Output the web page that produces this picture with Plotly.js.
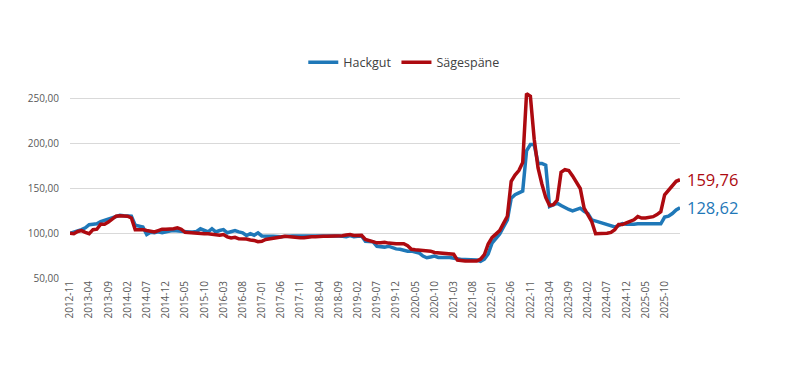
<!DOCTYPE html>
<html>
<head>
<meta charset="utf-8">
<script src="https://cdn.plot.ly/plotly-3.0.1.min.js"></script>
<style>
  html, body { margin: 0; padding: 0; background: #ffffff; }
  #chart { width: 805px; height: 386px; }
</style>
</head>
<body>
<div id="chart"></div>
<script>
// Monthly categories 2012-11 .. 2026-02
const startYear = 2012, startMonth = 11, monthCount = 160;
const months = [];
for (let k = 0; k < monthCount; k++) {
  const m0 = (startMonth - 1) + k;
  const y = startYear + Math.floor(m0 / 12);
  const m = (m0 % 12) + 1;
  months.push(y + '-' + (m < 10 ? '0' + m : '' + m));
}

const tickLabels = ['2012-11','2013-04','2013-09','2014-02','2014-07','2014-12','2015-05','2015-10',
  '2016-03','2016-08','2017-01','2017-06','2017-11','2018-04','2018-09','2019-02','2019-07','2019-12',
  '2020-05','2020-10','2021-03','2021-08','2022-01','2022-06','2022-11','2023-04','2023-09','2024-02',
  '2024-07','2024-12','2025-05','2025-10'];

const hackgut = [
  100, 101, 102.5, 104, 106, 109.5, 110, 110.5, 113, 114.5,
  115, 117, 119, 120, 119.5, 119.5, 119, 109, 108, 107,
  98.5, 101, 100.5, 101.5, 100.5, 102, 102.5, 103, 102.5, 102,
  102, 101.5, 101.5, 102, 105, 103, 101.5, 105, 101.5, 103,
  104, 100.5, 102, 103, 101.5, 100.5, 97.5, 99.5, 97.8, 100.5,
  97, 96.5, 96.5, 96.5, 96, 96, 96.5, 97, 97, 97,
  97, 97, 97, 97.5, 97.5, 97.5, 97.5, 97.5, 97, 97,
  97, 96.5, 96, 97.5, 96, 96.5, 97, 91, 91, 90.5,
  85.5, 85, 84.5, 85.5, 83.5, 82.5, 82, 81, 80, 80,
  79, 78, 74.5, 72.6, 73.5, 74.4, 73, 72.6, 73, 73,
  72, 71.5, 70.6, 70.6, 70.5, 70, 70, 68.5, 71, 77,
  89, 94, 99, 107, 115, 139, 143, 145, 147, 192,
  199, 199, 178, 178, 176, 130, 132, 133.5, 131, 128.5,
  126.5, 125, 127, 128, 124.5, 122, 115, 113.5, 112.5, 111,
  110, 107.5, 107, 108.5, 110.8, 110, 109.7, 110, 110.5, 110.5,
  110.5, 110.8, 110.8, 110.5, 110.5, 118, 119, 122, 126, 128.62
];

const saegespaene = [
  100, 99.5, 102, 103, 101, 99.5, 104, 104.5, 110, 110,
  112.5, 116, 119, 119.5, 119.5, 119, 117, 104, 104, 104,
  103, 102.5, 101.5, 103, 104.5, 104.5, 104.5, 105, 106, 104.5,
  101, 100.5, 100, 99.5, 99.5, 99.3, 99.3, 99, 98.5, 97.8,
  98.5, 96, 94.8, 95.5, 93.7, 93.7, 93.5, 92.5, 92, 90.5,
  91, 93, 93.5, 94, 95, 95.7, 96.5, 96, 95.5, 95,
  95, 95, 95.7, 96, 96, 96.5, 96.5, 96.5, 96.5, 97,
  97, 97.3, 98, 98.5, 97.5, 97.3, 97.7, 93, 92, 91,
  89.3, 89.5, 90, 89, 88.2, 88.2, 88.2, 88.2, 86, 82,
  81.5, 81, 81, 80.5, 80, 78.5, 78, 77.3, 77, 76.8,
  76.6, 70, 69, 69, 69, 69, 69, 71, 76, 88,
  95, 99, 103, 111, 119, 158, 165, 170, 179, 256,
  253, 205, 173, 155, 140, 131, 132, 137, 168, 171,
  170, 164, 156, 150, 128, 121, 113, 99.5, 99.5, 99.7,
  100, 101, 104, 109.7, 109.7, 111.5, 113, 115, 118.6, 117,
  117, 117.5, 118.5, 120.8, 124, 143, 148, 152, 158, 159.76
];

const yTicks = [50, 100, 150, 200, 250];
const seriesNames = ['Hackgut', 'Sägespäne'];
const blue = '#1f78b8';
const red = '#ad0a10';
const fontFam = '"Open Sans", "DejaVu Sans", sans-serif';

function fmt(v) { return v.toFixed(2).replace('.', ','); }

const traces = [
  { x: months, y: hackgut, name: seriesNames[0], type: 'scatter', mode: 'lines',
    line: { color: blue, width: 3.5 } },
  { x: months, y: saegespaene, name: seriesNames[1], type: 'scatter', mode: 'lines',
    line: { color: red, width: 3.5 } }
];

const layout = {
  width: 805, height: 386,
  paper_bgcolor: '#ffffff', plot_bgcolor: '#ffffff',
  font: { family: fontFam, color: '#595959', size: 10 },
  separators: ',.',
  margin: { l: 70, r: 125, t: 90, b: 108 },
  showlegend: true,
  legend: {
    orientation: 'h', x: 0.548, xanchor: 'center', y: 1.145, yanchor: 'middle',
    font: { family: fontFam, size: 12.5, color: '#404040' },
    itemwidth: 30, tracegroupgap: 0
  },
  xaxis: {
    type: 'category', range: [0, months.length - 1],
    tickmode: 'array', tickvals: tickLabels, ticktext: tickLabels,
    tickangle: -90, showgrid: false, zeroline: false, showline: false, ticks: '',
    tickfont: { family: fontFam, size: 10, color: '#595959' },
    fixedrange: true
  },
  yaxis: {
    range: [50, 260], tickmode: 'array', tickvals: yTicks,
    ticktext: yTicks.map(fmt), showgrid: true, gridcolor: '#d9d9d9', gridwidth: 1,
    zeroline: false, showline: false, ticks: '', ticklabelstandoff: 10,
    tickfont: { family: fontFam, size: 10, color: '#595959' },
    fixedrange: true
  },
  annotations: [
    { x: months[months.length - 1], y: saegespaene[saegespaene.length - 1], xref: 'x', yref: 'y',
      text: fmt(saegespaene[saegespaene.length - 1]), showarrow: false, xanchor: 'left', yanchor: 'middle',
      xshift: 5, font: { family: fontFam, size: 16.5, color: red } },
    { x: months[months.length - 1], y: hackgut[hackgut.length - 1], xref: 'x', yref: 'y',
      text: fmt(hackgut[hackgut.length - 1]), showarrow: false, xanchor: 'left', yanchor: 'middle',
      xshift: 5, font: { family: fontFam, size: 16.5, color: blue } }
  ]
};

Plotly.newPlot('chart', traces, layout, { displayModeBar: false, staticPlot: true });
</script>
</body>
</html>
